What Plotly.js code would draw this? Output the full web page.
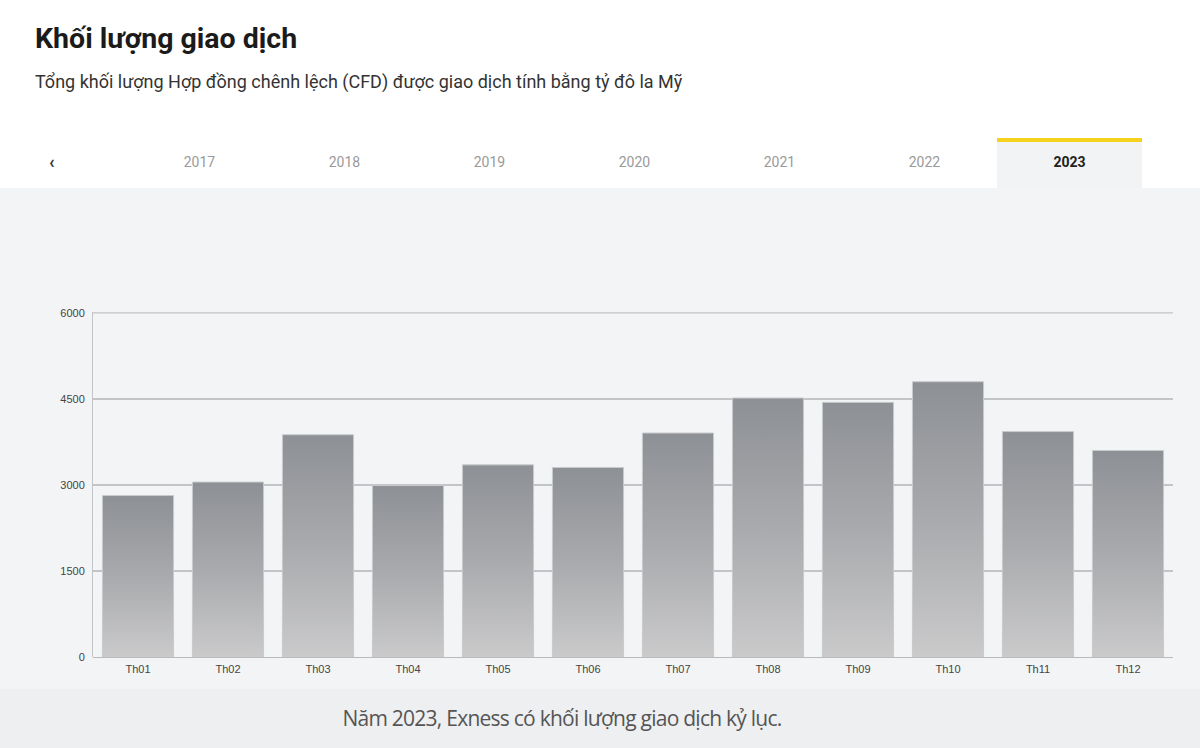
<!DOCTYPE html>
<html>
<head>
<meta charset="utf-8">
<script src="https://cdn.plot.ly/plotly-3.0.1.min.js"></script>
<style>
  html, body { margin: 0; padding: 0; width: 1200px; height: 748px; overflow: hidden; background: #ffffff; font-family: Roboto, "Noto Sans", sans-serif; }
  #title { position: absolute; left: 35px; top: 22px; font-size: 28.5px; font-weight: 700; color: #1b1b1b; white-space: nowrap; }
  #subtitle { position: absolute; left: 35px; top: 71px; font-size: 18px; color: #333; white-space: nowrap; }
  #tabs { position: absolute; left: 0; top: 138px; width: 1200px; height: 50px; }
  .tab { position: absolute; top: 0; width: 145px; height: 50px; line-height: 48px; text-align: center; font-size: 14px; color: #9a9a9a; }
  .tab.active { background: #f1f3f5; color: #222; font-weight: 700; border-top: 4px solid #f5d21d; height: 46px; line-height: 40px; box-sizing: content-box; }
  #prev { position: absolute; left: 49px; top: 151px; font-size: 18px; color: #333; font-weight: 700; }
  #panel { position: absolute; left: 0; top: 188px; width: 1200px; height: 501px; background: #f3f4f6; }
  #chart { position: absolute; left: 0; top: 188px; width: 1200px; height: 501px; }
  #caption { position: absolute; left: 0; top: 689px; width: 1200px; height: 59px; background: #eeeff1; font-family: "Open Sans", "Noto Sans", sans-serif; font-size: 21px; color: #555; letter-spacing: -0.75px; }
  #caption span { position: absolute; left: 562px; top: 0; line-height: 59px; transform: translateX(-50%); white-space: nowrap; }
</style>
</head>
<body>
<div id="title">Khối lượng giao dịch</div>
<div id="subtitle">Tổng khối lượng Hợp đồng chênh lệch (CFD) được giao dịch tính bằng tỷ đô la Mỹ</div>
<div id="prev">&#8249;</div>
<div id="tabs"></div>
<div id="panel"></div>
<div id="chart"></div>
<div id="caption"><span>Năm 2023, Exness có khối lượng giao dịch kỷ lục.</span></div>
<script>
// ---- data ----
const years = ["2017", "2018", "2019", "2020", "2021", "2022", "2023"];
const activeYear = "2023";
const months = ["Th01", "Th02", "Th03", "Th04", "Th05", "Th06", "Th07", "Th08", "Th09", "Th10", "Th11", "Th12"];
const volumes = [2815, 3050, 3875, 2990, 3350, 3305, 3905, 4515, 4440, 4800, 3930, 3600];
const yTicks = [0, 1500, 3000, 4500, 6000];
const yMax = 6000;

// ---- tabs ----
const tabs = document.getElementById('tabs');
years.forEach((y, i) => {
  const d = document.createElement('div');
  d.className = 'tab' + (y === activeYear ? ' active' : '');
  d.style.left = (127 + 145 * i) + 'px';
  d.textContent = y;
  tabs.appendChild(d);
});

// ---- chart ----
const trace = {
  type: 'bar',
  x: months,
  y: volumes,
  marker: { color: '#a9abae', line: { color: '#c9cacc', width: 1 } },
  hoverinfo: 'x+y'
};
const layout = {
  width: 1200,
  height: 501,
  margin: { l: 93, r: 27, t: 124, b: 32 },
  paper_bgcolor: 'rgba(0,0,0,0)',
  plot_bgcolor: 'rgba(0,0,0,0)',
  bargap: 0.21,
  showlegend: false,
  font: { family: 'Arial, "Liberation Sans", sans-serif', size: 11, color: '#444' },
  xaxis: {
    type: 'category',
    showgrid: false,
    showline: false,
    zeroline: false,
    ticks: '',
    ticklabelstandoff: 4,
    tickfont: { size: 11, color: '#444' }
  },
  yaxis: {
    range: [0, 6015],
    tickvals: yTicks,
    ticktext: yTicks.map(String),
    showgrid: true,
    gridcolor: '#c3c4c7',
    gridwidth: 1.3,
    zeroline: true,
    zerolinecolor: '#b9babd',
    zerolinewidth: 1,
    showline: true,
    linecolor: '#c3c4c7',
    linewidth: 1,
    ticks: '',
    ticklabelstandoff: 5,
    tickfont: { size: 11, color: '#444' }
  },
  shapes: [{
    type: 'line', xref: 'paper', yref: 'y', x0: 0, x1: 1, y0: yMax, y1: yMax,
    line: { color: '#c3c4c7', width: 1.3 }, layer: 'below'
  }]
};

Plotly.newPlot('chart', [trace], layout, { displayModeBar: false, staticPlot: true }).then(() => {
  const svg = document.querySelector('#chart .main-svg');
  const ns = 'http://www.w3.org/2000/svg';
  const defs = document.createElementNS(ns, 'defs');
  const grad = document.createElementNS(ns, 'linearGradient');
  grad.setAttribute('id', 'barGrad');
  grad.setAttribute('x1', '0'); grad.setAttribute('y1', '0');
  grad.setAttribute('x2', '0'); grad.setAttribute('y2', '1');
  [['0', '#8d9095'], ['0.5', '#a9aaad'], ['1', '#cacacb']].forEach(([o, c]) => {
    const s = document.createElementNS(ns, 'stop');
    s.setAttribute('offset', o); s.setAttribute('stop-color', c);
    grad.appendChild(s);
  });
  defs.appendChild(grad);
  svg.insertBefore(defs, svg.firstChild);
  document.querySelectorAll('#chart g.trace.bars path').forEach(p => {
    p.style.fill = 'url(#barGrad)';
  });
});
</script>
</body>
</html>
